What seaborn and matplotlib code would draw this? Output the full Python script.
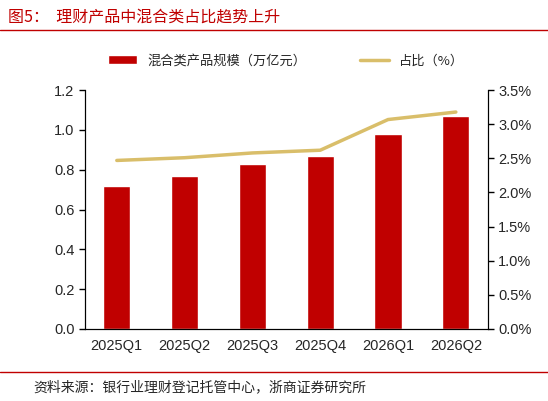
import matplotlib.pyplot as plt
import seaborn as sns
import pandas as pd

quarters = ["2025Q1", "2025Q2", "2025Q3", "2025Q4", "2026Q1", "2026Q2"]
scale = [0.72, 0.77, 0.83, 0.87, 0.98, 1.07]
share = [2.47, 2.51, 2.58, 2.62, 3.07, 3.18]

sns.set_style("white")
plt.rcParams["font.family"] = ["Liberation Sans", "Noto Sans CJK SC", "DejaVu Sans"]

df = pd.DataFrame({"q": quarters, "scale": scale, "share": share})

fig = plt.figure(figsize=(5.48, 4.01), dpi=100)
ax = fig.add_axes([0.155, 0.18, 0.735, 0.595])
sns.barplot(df, x="q", y="scale", color="#C00000", width=0.4, saturation=1, ax=ax,
            label="混合类产品规模（万亿元）")
ax.set_ylim(0, 1.2)
ax.set_yticks([0, 0.2, 0.4, 0.6, 0.8, 1.0, 1.2])
ax.set_yticklabels([f"{v:.1f}" for v in [0, 0.2, 0.4, 0.6, 0.8, 1.0, 1.2]])
ax.set_xlabel("")
ax.set_ylabel("")

ax2 = ax.twinx()
sns.lineplot(df, x="q", y="share", color="#D9BE6A", linewidth=2.5, ax=ax2, label="占比（%）")
ax2.set_ylim(0, 3.5)
ax2.set_yticks([i * 0.5 for i in range(8)])
ax2.set_yticklabels([f"{i * 0.5:.1f}%" for i in range(8)])
ax2.set_ylabel("")
ax2.get_legend().remove()

for a in (ax, ax2):
    a.spines["top"].set_visible(False)
    a.tick_params(labelsize=10.5, length=4, direction="out", color="black", width=1)
    for s in ["left", "right", "bottom"]:
        a.spines[s].set_color("black")

h1, l1 = ax.get_legend_handles_labels()
h2, l2 = ax2.get_legend_handles_labels()
ax.legend(h1 + h2, l1 + l2, loc="upper center", bbox_to_anchor=(0.5, 1.2), ncol=2,
          frameon=False, fontsize=9.5, handlelength=2.2, columnspacing=4,
          prop={"family": ["Noto Sans CJK SC", "DejaVu Sans"], "size": 9.5})

fig.text(0.015, 0.955, "图5：  理财产品中混合类占比趋势上升", color="#C00000", fontsize=11.5,
         ha="left", va="center", family=["Noto Sans CJK SC", "DejaVu Sans"])
fig.add_artist(plt.Line2D([0.0, 1.0], [0.925, 0.925], color="#C00000", linewidth=1))
fig.add_artist(plt.Line2D([0.0, 1.0], [0.072, 0.072], color="#C00000", linewidth=1))
fig.text(0.06, 0.035, "资料来源：银行业理财登记托管中心，浙商证券研究所", fontsize=10,
         ha="left", va="center", family=["Noto Sans CJK SC", "DejaVu Sans"])

fig.savefig("out.png")
